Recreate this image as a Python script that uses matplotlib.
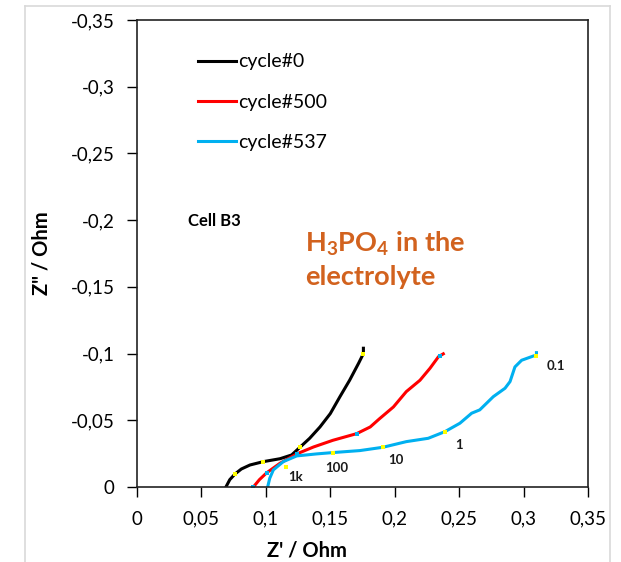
import matplotlib
matplotlib.use("Agg")
import matplotlib.pyplot as plt
from matplotlib.lines import Line2D

plt.rcParams['font.family'] = ['Lato', 'DejaVu Sans']
plt.rcParams['mathtext.fontset'] = 'custom'
plt.rcParams['mathtext.rm'] = 'Lato:bold'
plt.rcParams['mathtext.bf'] = 'Lato:bold'

# cycle#0
x0 = [0.069, 0.072, 0.076, 0.081, 0.0877, 0.098, 0.111, 0.120, 0.1265, 0.134, 0.142, 0.150, 0.1575, 0.165, 0.172, 0.1757, 0.1757]
y0 = [0.0, -0.0055, -0.0097, -0.0135, -0.0165, -0.019, -0.0212, -0.024, -0.0298, -0.0365, -0.045, -0.055, -0.0677, -0.080, -0.0928, -0.100, -0.104]
# cycle#500
x500 = [0.0903, 0.095, 0.1007, 0.111, 0.124, 0.137, 0.152, 0.1705, 0.181, 0.188, 0.199, 0.209, 0.2196, 0.2274, 0.234, 0.2377]
y500 = [0.0, -0.0055, -0.0107, -0.0178, -0.0248, -0.030, -0.035, -0.040, -0.045, -0.051, -0.060, -0.0715, -0.080, -0.089, -0.0977, -0.0998]
# cycle#537
x537 = [0.1014, 0.1030, 0.1058, 0.1135, 0.124, 0.1394, 0.152, 0.173, 0.191, 0.209, 0.226, 0.239, 0.2506, 0.2597, 0.266,
        0.2765, 0.2856, 0.2895, 0.2933, 0.2985, 0.310, 0.310]
y537 = [0.0, -0.0065, -0.0128, -0.019, -0.0233, -0.0248, -0.0258, -0.0273, -0.0298, -0.034, -0.0365, -0.0415, -0.0478,
        -0.0553, -0.0578, -0.0677, -0.074, -0.079, -0.090, -0.095, -0.099, -0.1007]

# frequency markers
mk0_x = [0.076, 0.098, 0.1265, 0.1757]
mk0_y = [-0.0097, -0.019, -0.0298, -0.100]
mk500_x = [0.0903, 0.1007, 0.124, 0.1705, 0.2355]
mk500_y = [0.0, -0.0107, -0.0248, -0.040, -0.0985]
mk537_x = [0.116, 0.152, 0.191, 0.239, 0.310]
mk537_y = [-0.0152, -0.0258, -0.0298, -0.0415, -0.0985]

freq_labels = ["1k", "100", "10", "1", "0.1"]
freq_x = [0.123, 0.155, 0.201, 0.250, 0.325]
freq_y = [-0.0075, -0.0140, -0.0200, -0.0315, -0.0905]

xticks = [0, 0.05, 0.1, 0.15, 0.2, 0.25, 0.3, 0.35]
xticklabels = ["0", "0,05", "0,1", "0,15", "0,2", "0,25", "0,3", "0,35"]
yticks = [0, -0.05, -0.1, -0.15, -0.2, -0.25, -0.3, -0.35]
yticklabels = ["0", "-0,05", "-0,1", "-0,15", "-0,2", "-0,25", "-0,3", "-0,35"]

W, H = 621, 562
fig = plt.figure(figsize=(W / 100, H / 100), dpi=100)
ax = fig.add_axes([137 / W, 1 - 487 / H, (588 - 137) / W, (487 - 20) / H])

blue = "#00B0F0"
ax.plot(x0, y0, color="black", lw=2.2, label="cycle#0")
ax.plot(x500, y500, color="#FF0000", lw=2.2, label="cycle#500")
ax.plot(x537, y537, color=blue, lw=2.2, label="cycle#537")

ax.plot(mk0_x, mk0_y, ls="none", marker="s", ms=3.2, color="#FFFF00", mew=0)
ax.plot(mk500_x, mk500_y, ls="none", marker="s", ms=3.0, color=blue, mew=0)
ax.plot(mk537_x, mk537_y, ls="none", marker="s", ms=3.2, color="#FFFF00", mew=0)

for t, fx, fy in zip(freq_labels, freq_x, freq_y):
    ax.text(fx, fy, t, fontsize=9.5, fontweight="bold", ha="center", va="center", color="#1a1a1a")

ax.set_xlim(0, 0.35)
ax.set_ylim(0, -0.35)
ax.set_xticks(xticks)
ax.set_xticklabels(xticklabels)
ax.set_yticks(yticks)
ax.set_yticklabels(yticklabels)
ax.tick_params(direction="out", length=7, width=1, labelsize=13.5, colors="black")
ax.tick_params(axis="x", pad=10)
ax.tick_params(axis="y", pad=9)
for s in ax.spines.values():
    s.set_linewidth(1.2)
    s.set_color("#222222")

ax.set_xlabel("Z' / Ohm", fontsize=14.5, fontweight="bold")
ax.xaxis.set_label_coords(0.377, -0.115)
ax.set_ylabel('Z" / Ohm', fontsize=14.5, fontweight="bold", labelpad=14)

ax.text(0.0395, -0.1995, "Cell B3", fontsize=12, fontweight="bold", ha="left", va="center")
ax.text(0.1304, -0.1705, "H$_\\mathbf{3}$PO$_\\mathbf{4}$ in the\nelectrolyte", fontsize=19.5, fontweight="bold",
        color="#D2621E", ha="left", va="center", linespacing=1.35)

leg = ax.legend(loc="upper left", bbox_to_anchor=(0.118, 0.945), frameon=False, fontsize=14,
                handlelength=1.95, handletextpad=0.1, labelspacing=1.2, borderaxespad=0)

# outer chart border
fig.add_artist(Line2D([25 / W, 25 / W], [0, 1 - 6 / H], color="#d9d9d9", lw=1.2, transform=fig.transFigure))
fig.add_artist(Line2D([25 / W, 610 / W], [1 - 6 / H, 1 - 6 / H], color="#d9d9d9", lw=1.2, transform=fig.transFigure))
fig.add_artist(Line2D([610 / W, 610 / W], [0, 1 - 6 / H], color="#d9d9d9", lw=1.2, transform=fig.transFigure))

fig.savefig("out.png", dpi=100)
